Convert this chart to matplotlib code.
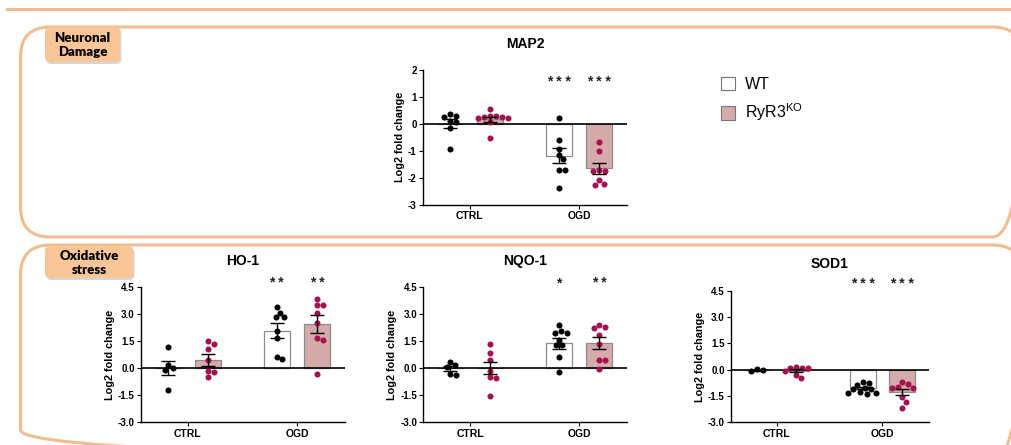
import numpy as np
import matplotlib.pyplot as plt
from matplotlib.patches import FancyBboxPatch, Patch

plt.rcParams['font.family'] = ['Liberation Sans', 'DejaVu Sans']
plt.rcParams['axes.unicode_minus'] = False
plt.rcParams['mathtext.fontset'] = 'custom'
plt.rcParams['mathtext.rm'] = 'Liberation Sans'

groups = ['CTRL', 'OGD']

# MAP2
map2_wt = [[0.35, 0.3, 0.25, 0.1, 0.05, -0.15, -0.95],
           [0.2, -0.6, -0.92, -1.15, -1.32, -1.7, -1.7, -2.37]]
map2_ko = [[0.55, 0.3, 0.28, 0.25, 0.25, 0.22, 0.2, 0.05, -0.52],
           [-0.69, -1.01, -1.7, -1.75, -1.75, -2.09, -2.22, -2.26]]
map2_mean_wt = [0.0, -1.18]
map2_sem_wt = [0.17, 0.28]
map2_mean_ko = [0.17, -1.66]
map2_sem_ko = [0.1, 0.2]
map2_stars_wt = ['', '* * *']
map2_stars_ko = ['', '* * *']

# HO-1
ho1_wt = [[1.2, 0.2, 0.0, -0.1, -1.2],
          [3.4, 3.1, 2.85, 2.85, 2.1, 1.7, 0.65, 0.5]]
ho1_ko = [[1.5, 1.35, 1.1, 0.45, -0.15, -0.2, -0.5],
          [3.85, 3.5, 3.5, 3.05, 2.5, 1.7, 1.55, -0.3]]
ho1_mean_wt = [0.0, 2.1]
ho1_sem_wt = [0.38, 0.4]
ho1_mean_ko = [0.47, 2.44]
ho1_sem_ko = [0.33, 0.5]
ho1_stars_wt = ['', '* *']
ho1_stars_ko = ['', '* *']

# NQO-1
nqo1_wt = [[0.35, 0.2, 0.05, -0.3, -0.35],
           [2.4, 2.08, 1.98, 1.95, 1.6, 1.3, 1.3, 0.64, -0.2]]
nqo1_ko = [[1.33, 0.87, 0.46, -0.13, -0.48, -0.52, -1.52],
           [2.41, 2.28, 2.22, 1.85, 1.35, 0.46, 0.46, -0.06]]
nqo1_mean_wt = [0.0, 1.39]
nqo1_sem_wt = [0.15, 0.3]
nqo1_mean_ko = [0.02, 1.39]
nqo1_sem_ko = [0.35, 0.33]
nqo1_stars_wt = ['', '*']
nqo1_stars_ko = ['', '* *']

# SOD1
sod1_wt = [[0.03, -0.04, -0.06],
           [-0.72, -0.78, -0.87, -1.05, -1.1, -1.12, -1.3, -1.35, -1.35, -1.38]]
sod1_ko = [[0.15, 0.1, 0.1, 0.1, -0.05, -0.3, -0.5],
           [-0.72, -0.83, -0.96, -1.02, -1.02, -1.53, -1.82, -2.2]]
sod1_mean_wt = [-0.03, -1.06]
sod1_sem_wt = [0.03, 0.07]
sod1_mean_ko = [-0.06, -1.27]
sod1_sem_ko = [0.09, 0.18]
sod1_stars_wt = ['', '* * *']
sod1_stars_ko = ['', '* * *']

orange = '#F0BD8E'
label_fill = '#F8C597'
ko_fill = '#D5AAAA'
ko_dot = '#A3124F'

W, H = 1011, 445
fig = plt.figure(figsize=(W / 100, H / 100), dpi=100)

# background decoration in pixel coordinates
bg = fig.add_axes([0, 0, 1, 1], zorder=-5)
bg.set_xlim(0, W)
bg.set_ylim(H, 0)
bg.axis('off')
bg.plot([7, W], [9, 9], color=orange, lw=2.2)
for y0, y1 in [(27, 237), (245, 460)]:
    bg.add_patch(FancyBboxPatch((20.5, y0), 1002, y1 - y0,
                                boxstyle='round,pad=0,rounding_size=30',
                                fc='none', ec=orange, lw=2.2, clip_on=True))
for (x0, y0, x1, y1), txt in [((45, 27, 120, 62), 'Neuronal\nDamage'),
                              ((45, 246, 133, 278), 'Oxidative\nstress')]:
    bg.add_patch(FancyBboxPatch((x0 + 1.5, y0 + 2), x1 - x0, y1 - y0,
                                boxstyle='round,pad=0,rounding_size=5',
                                fc='#BBBBBB', ec='none', alpha=0.6))
    bg.add_patch(FancyBboxPatch((x0, y0), x1 - x0, y1 - y0,
                                boxstyle='round,pad=0,rounding_size=5',
                                fc=label_fill, ec='none'))
    bg.text((x0 + x1) / 2, (y0 + y1) / 2 + 0.5, txt, ha='center', va='center',
            family=['Lato', 'DejaVu Sans'], fontweight='heavy', fontsize=9.5,
            color='black', linespacing=1.2)


def swarm(ax, xc, ys, diam=6.0, step=0.5):
    # simple beeswarm in pixel space
    pts = ax.transData.transform(np.column_stack([np.full(len(ys), xc), ys]))
    placed = []
    xs = []
    for px, py in pts:
        k = 0
        while True:
            cands = [0.0] if k == 0 else [k * step, -k * step]
            ok = None
            for c in cands:
                if all((px + c - qx) ** 2 + (py - qy) ** 2 >= diam ** 2 for qx, qy in placed):
                    ok = c
                    break
            if ok is not None:
                placed.append((px + ok, py))
                xs.append(px + ok)
                break
            k += 1
    back = ax.transData.inverted().transform(np.column_stack([xs, pts[:, 1]]))
    return back[:, 0]


def panel(rect, title, ylim, yticks, ylabels, wt, ko, mwt, swt, mko, sko,
          st_wt, st_ko, star_y):
    ax = fig.add_axes(rect)
    ax.set_xlim(-0.43, 1.44)
    ax.set_ylim(*ylim)
    pos = np.arange(len(groups))
    off, bw = 0.185, 0.24
    ax.bar(pos - off, mwt, bw, color='white', edgecolor='#8c8c8c', lw=0.9, zorder=1)
    ax.bar(pos + off, mko, bw, color=ko_fill, edgecolor='#8c8c8c', lw=0.9, zorder=1)
    for i in range(len(groups)):
        xs = swarm(ax, pos[i] - off, wt[i])
        ax.scatter(xs, wt[i], s=19, color='black', lw=0, zorder=3)
        xs = swarm(ax, pos[i] + off, ko[i])
        ax.scatter(xs, ko[i], s=19, color=ko_dot, lw=0, zorder=3)
        ax.text(pos[i] - off, star_y, st_wt[i], ha='center', va='center',
                fontsize=10, fontweight='bold', color='#222222')
        ax.text(pos[i] + off, star_y, st_ko[i], ha='center', va='center',
                fontsize=10, fontweight='bold', color='#222222')
    ax.errorbar(pos - off, mwt, yerr=swt, fmt='none', ecolor='black',
                elinewidth=1, capsize=5, capthick=1, zorder=4)
    ax.errorbar(pos + off, mko, yerr=sko, fmt='none', ecolor='black',
                elinewidth=1, capsize=5, capthick=1, zorder=4)
    ax.axhline(0, color='black', lw=1.2, zorder=2)
    for s in ['top', 'right']:
        ax.spines[s].set_visible(False)
    ax.spines['left'].set_linewidth(1)
    ax.spines['bottom'].set_linewidth(1)
    ax.set_yticks(yticks)
    ax.set_yticklabels(ylabels, fontsize=7, fontweight='bold')
    ax.set_xticks(pos)
    ax.set_xticklabels(groups, fontsize=7.5, fontweight='bold')
    ax.tick_params(length=3, width=0.8, pad=1.5)
    ax.set_ylabel('Log2 fold change', fontsize=7.8, fontweight='bold', labelpad=2)
    ax.set_title(title, fontsize=10, fontweight='bold', pad=16)
    ax.patch.set_alpha(0)
    return ax


def frac(x0, x1, ytop, ybot):
    return [x0 / W, 1 - ybot / H, (x1 - x0) / W, (ybot - ytop) / H]


yt1 = [-3, -2, -1, 0, 1, 2]
yt2 = [-3.0, -1.5, 0.0, 1.5, 3.0, 4.5]
yl2 = ['-3.0', '-1.5', '0.0', '1.5', '3.0', '4.5']

ax_map2 = panel(frac(423, 627, 70, 204.5), 'MAP2', (-3, 2), yt1, [str(v) for v in yt1],
                map2_wt, map2_ko, map2_mean_wt, map2_sem_wt, map2_mean_ko, map2_sem_ko,
                map2_stars_wt, map2_stars_ko, 1.57)
panel(frac(141, 345, 287.3, 422.3), 'HO-1', (-3, 4.5), yt2, yl2,
      ho1_wt, ho1_ko, ho1_mean_wt, ho1_sem_wt, ho1_mean_ko, ho1_sem_ko,
      ho1_stars_wt, ho1_stars_ko, 4.72)
panel(frac(423.3, 627, 287.3, 422.3), 'NQO-1', (-3, 4.5), yt2, yl2,
      nqo1_wt, nqo1_ko, nqo1_mean_wt, nqo1_sem_wt, nqo1_mean_ko, nqo1_sem_ko,
      nqo1_stars_wt, nqo1_stars_ko, 4.72)
panel(frac(731, 929, 290.7, 422.3), 'SOD1', (-3, 4.5), yt2, yl2,
      sod1_wt, sod1_ko, sod1_mean_wt, sod1_sem_wt, sod1_mean_ko, sod1_sem_ko,
      sod1_stars_wt, sod1_stars_ko, 4.86)

handles = [Patch(fc='white', ec='#777777', lw=0.8, label='WT'),
           Patch(fc=ko_fill, ec='#777777', lw=0.8, label='RyR3$^{\\mathrm{KO}}$')]
fig.legend(handles=handles, loc='upper left', bbox_to_anchor=(721 / W, 1 - 77 / H),
           frameon=False, fontsize=11.5, handlelength=0.9, handleheight=0.9,
           handletextpad=0.6, labelspacing=0.6, borderpad=0, borderaxespad=0)

fig.savefig('out.png', dpi=100)
